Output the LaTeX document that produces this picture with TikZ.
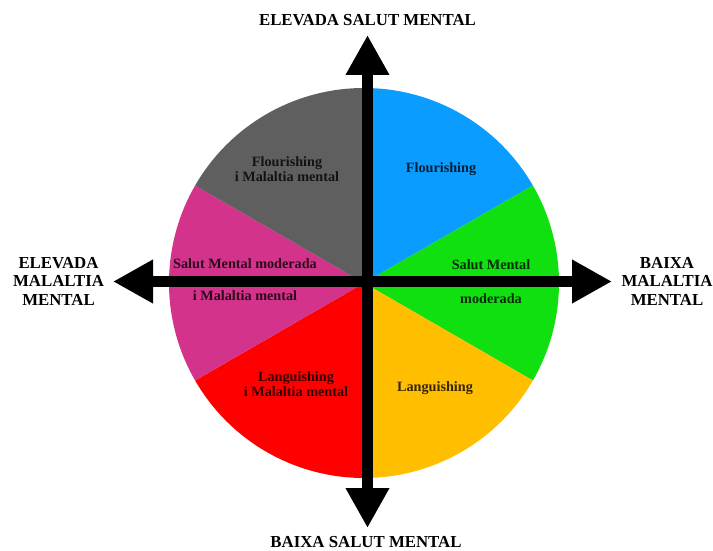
\documentclass[tikz,border=0pt]{standalone}
\usepackage{fontspec}
\setmainfont{Liberation Serif}
\usetikzlibrary{arrows.meta}

\definecolor{zoneblue}{HTML}{0A9CFF}
\definecolor{zonegreen}{HTML}{10E010}
\definecolor{zoneyellow}{HTML}{FFBF00}
\definecolor{zonered}{HTML}{FF0000}
\definecolor{zonemagenta}{HTML}{D3338A}
\definecolor{zonegray}{HTML}{5F5F5F}

\begin{document}
\begin{tikzpicture}[x=1pt,y=1pt,
  axis/.style={line width=11pt,
    {Triangle[width=41pt,length=40pt]}-{Triangle[width=41pt,length=40pt]}},
  axislabel/.style={font=\fontsize{16.8}{18.5}\selectfont\bfseries,
    align=center, inner sep=0pt},
  zonelabel/.style={font=\fontsize{14.2}{15.5}\selectfont\bfseries,
    align=center, inner sep=0pt, text opacity=0.8}]
  \useasboundingbox (0,0) rectangle (713,550);

  % Circle centre and radius
  \def\cx{364}
  \def\cy{267}
  \def\rr{195}
  \coordinate (O) at (\cx,\cy);

  % Six sectors of the circle
  \fill[zoneblue]    (O) -- ++(90:\rr)  arc[start angle=90,  end angle=30,  radius=\rr] -- cycle;
  \fill[zonegreen]   (O) -- ++(30:\rr)  arc[start angle=30,  end angle=-30, radius=\rr] -- cycle;
  \fill[zoneyellow]  (O) -- ++(-30:\rr) arc[start angle=-30, end angle=-90, radius=\rr] -- cycle;
  \fill[zonered]     (O) -- ++(270:\rr) arc[start angle=270, end angle=210, radius=\rr] -- cycle;
  \fill[zonemagenta] (O) -- ++(210:\rr) arc[start angle=210, end angle=150, radius=\rr] -- cycle;
  \fill[zonegray]    (O) -- ++(150:\rr) arc[start angle=150, end angle=90,  radius=\rr] -- cycle;

  % Axes
  \coordinate (up)    at (367.5,515);
  \coordinate (down)  at (367.5,22);
  \coordinate (left)  at (113,268.5);
  \coordinate (right) at (612,268.5);
  \draw[axis] (down) -- (up);
  \draw[axis] (left) -- (right);

  % Axis labels
  \node[axislabel, anchor=base] (highhealth) at (367.5,524) {ELEVADA SALUT MENTAL};
  \node[axislabel, anchor=base] (lowhealth)  at (366,3)     {BAIXA SALUT MENTAL};
  \node[axislabel] (highill) at (58.5,269) {ELEVADA\\MALALTIA\\MENTAL};
  \node[axislabel] (lowill)  at (667,269)  {BAIXA\\MALALTIA\\MENTAL};

  % Sector labels
  \node[zonelabel] (flourill) at (287,381) {Flourishing\\i Malaltia mental};
  \node[zonelabel, anchor=base] (flour) at (441,377) {Flourishing};
  \node[zonelabel, anchor=base] (modillA) at (245,281) {Salut Mental moderada};
  \node[zonelabel, anchor=base] (modillB) at (245,249) {i Malaltia mental};
  \node[zonelabel, anchor=base] (modA) at (491,280) {Salut Mental};
  \node[zonelabel, anchor=base] (modB) at (491,247) {moderada};
  \node[zonelabel] (languill) at (296,166) {Languishing\\i Malaltia mental};
  \node[zonelabel, anchor=base] (langu) at (435,159) {Languishing};
\end{tikzpicture}
\end{document}
